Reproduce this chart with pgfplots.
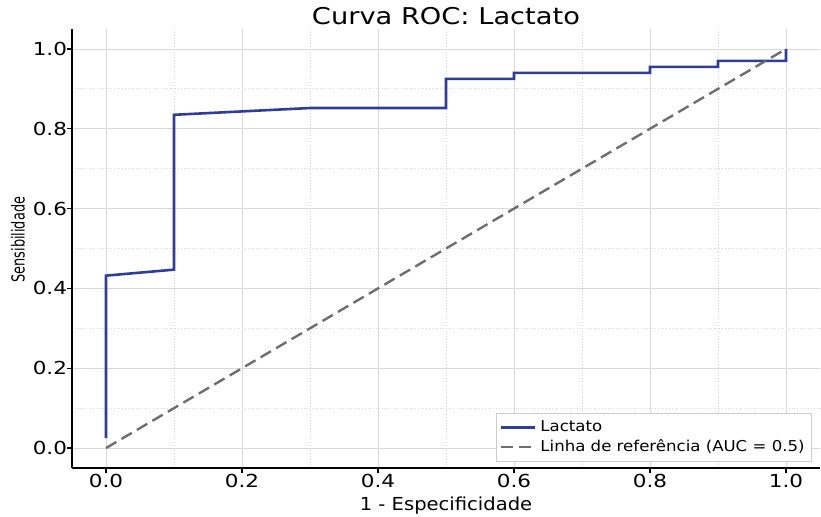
\documentclass[border=0pt]{standalone}
\usepackage{fontspec}
\setmainfont{DejaVu Sans}
\newfontfamily\tickfont{DejaVu Sans}[FakeStretch=1.2]
\newfontfamily\labfont{DejaVu Sans}[FakeStretch=1.09]
\newfontfamily\yfont{DejaVu Sans}[FakeStretch=0.72]
\newfontfamily\legfont{DejaVu Sans}[FakeStretch=1.11]
\newfontfamily\titfont{DejaVu Sans}[FakeStretch=1.18]
\usepackage{pgfplots}
\pgfplotsset{compat=1.18}
\definecolor{rocblue}{HTML}{2F3C9C}
\definecolor{refgray}{HTML}{6E6E6E}

\begin{document}
\begin{tikzpicture}
\begin{axis}[
  scale only axis, width=374bp, height=219.5bp,
  xmin=-0.05, xmax=1.05, ymin=-0.05, ymax=1.05,
  axis x line*=bottom, axis y line*=left,
  axis line style={black, line width=0.8pt},
  xtick={0,0.2,...,1.0}, ytick={0,0.2,...,1.0},
  minor xtick={0.1,0.3,...,0.9}, minor ytick={0.1,0.3,...,0.9},
  grid=both,
  major grid style={gray!30, line width=0.4pt},
  minor grid style={gray!30, line width=0.4pt, densely dotted},
  tick align=outside, major tick length=2.5pt, minor tick length=0pt,
  tick style={black, line width=0.6pt},
  /pgf/number format/assume math mode=true,
  /pgf/number format/fixed, /pgf/number format/fixed zerofill,
  /pgf/number format/precision=1,
  tick label style={font=\tickfont\fontsize{9}{10}\selectfont},
  xticklabel style={yshift=3bp},
  yticklabel style={xshift=3.5bp},
  xlabel={1 - Especificidade}, ylabel={Sensibilidade},
  xlabel style={font=\labfont\fontsize{9}{10}\selectfont,
    at={(axis description cs:0.5,0)}, anchor=center, yshift=-19bp},
  ylabel style={font=\yfont\fontsize{9}{10}\selectfont,
    at={(axis description cs:-0.0722,0.52)}, anchor=center},
  title={Curva ROC: Lactato},
  title style={font=\titfont\fontsize{11.6}{13}\selectfont,
    at={(axis description cs:0.5,1)}, anchor=center, yshift=0.5bp},
  legend style={at={(0.9893,0.0137)}, anchor=south east,
    font=\legfont\fontsize{7.5}{9}\selectfont, draw=gray!40, fill=white,
    row sep=-1.5pt, inner sep=1.5pt},
  legend cell align=left,
]
\addplot[rocblue, line width=1.3pt] coordinates {
  (0.0,0.025) (0.0,0.432) (0.1,0.447) (0.1,0.835) (0.3,0.852) (0.5,0.852)
  (0.5,0.925) (0.6,0.925) (0.6,0.940) (0.8,0.940) (0.8,0.955) (0.9,0.955)
  (0.9,0.970) (1.0,0.970) (1.0,1.0)
};
\addlegendentry{Lactato}
\addplot[refgray, line width=1.2pt, dash pattern=on 6pt off 3pt] coordinates {
  (0,0) (1,1)
};
\addlegendentry{Linha de referência (AUC = 0.5)}
\coordinate (bl) at (rel axis cs:0,0);
\coordinate (tr) at (rel axis cs:1,1);
\end{axis}
\pgfresetboundingbox
\path[use as bounding box] ([shift={(-36bp,-24.5bp)}]bl) rectangle ([shift={(0.5bp,14.5bp)}]tr);
\end{tikzpicture}
\end{document}
